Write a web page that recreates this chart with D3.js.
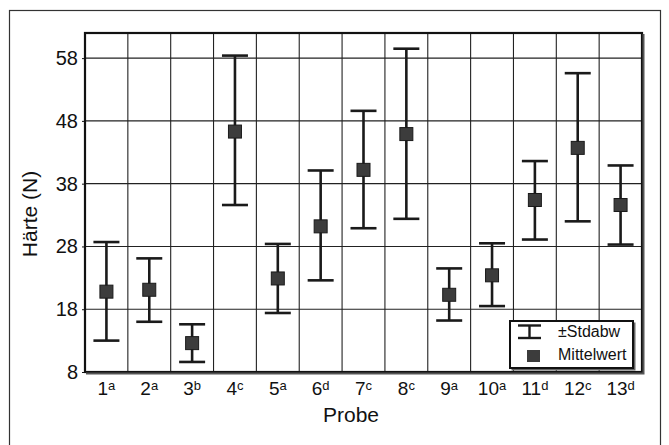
<!DOCTYPE html>
<html>
<head>
<meta charset="utf-8">
<script src="https://cdn.jsdelivr.net/npm/d3@7"></script>
<style>
  body { margin: 0; background: #fff; }
  svg { display: block; }
</style>
</head>
<body>
<div class="chart"></div>
<script>
// Proben und Gruppenbuchstaben
var probes = ["1", "2", "3", "4", "5", "6", "7", "8", "9", "10", "11", "12", "13"];
var groups = ["a", "a", "b", "c", "a", "d", "c", "c", "a", "a", "d", "c", "d"];
// Mittelwert und Grenzen (Mittelwert ± Stdabw)
var means = [20.8, 21.1, 12.6, 46.3, 22.9, 31.2, 40.2, 45.9, 20.3, 23.4, 35.4, 43.7, 34.6];
var upper = [28.7, 26.1, 15.6, 58.4, 28.4, 40.1, 49.6, 59.5, 24.5, 28.5, 41.6, 55.6, 40.9];
var lower = [13.0, 16.0, 9.6, 34.6, 17.4, 22.6, 30.9, 32.4, 16.2, 18.5, 29.1, 32.0, 28.3];
var yTicks = [8, 18, 28, 38, 48, 58];

var font = "Liberation Sans, Arial, Helvetica, sans-serif";
var width = 669, height = 445;
var margin = {top: 33, right: 27, bottom: 73, left: 85},
    plotW = width - margin.left - margin.right,
    plotH = height - margin.top - margin.bottom;

var data = probes.map(function(p, i) {
  return {probe: p, group: groups[i], mean: means[i], hi: upper[i], lo: lower[i]};
});

var svg = d3.select(".chart").append("svg")
    .attr("width", width)
    .attr("height", height)
    .attr("font-family", font);

// outer frame
svg.append("rect")
    .attr("x", 9.5).attr("y", 10.5)
    .attr("width", 651).attr("height", 440)
    .attr("fill", "none")
    .attr("stroke", "#333")
    .attr("stroke-width", 1.2);

var g = svg.append("g")
    .attr("transform", `translate(${margin.left}, ${margin.top})`);

var x = d3.scaleBand()
    .domain(probes)
    .range([0, plotW])
    .padding(0);

var y = d3.scaleLinear()
    .domain([8, 62])
    .range([plotH, 0]);

// horizontal grid
g.append("g")
  .selectAll("line")
  .data(yTicks.slice(1))
  .enter().append("line")
    .attr("x1", 0).attr("x2", plotW)
    .attr("y1", d => y(d)).attr("y2", d => y(d))
    .attr("stroke", "#222")
    .attr("stroke-width", 1.1);

// vertical grid between probes
g.append("g")
  .selectAll("line")
  .data(probes.slice(1))
  .enter().append("line")
    .attr("x1", d => x(d)).attr("x2", d => x(d))
    .attr("y1", 0).attr("y2", plotH)
    .attr("stroke", "#222")
    .attr("stroke-width", 1.1);

// plot frame, heavier bottom and right like a shadow
g.append("rect")
    .attr("x", 0).attr("y", 0)
    .attr("width", plotW).attr("height", plotH)
    .attr("fill", "none")
    .attr("stroke", "#111")
    .attr("stroke-width", 2.2);
g.append("path")
    .attr("d", `M${plotW + 1.5},1 V${plotH + 1.5} H1`)
    .attr("fill", "none")
    .attr("stroke", "#555")
    .attr("stroke-width", 2);

// y axis
var yAxis = g.append("g")
    .call(d3.axisLeft(y).tickValues(yTicks).tickSize(3).tickPadding(4));
yAxis.attr("font-family", font);
yAxis.select(".domain").remove();
yAxis.selectAll("line").attr("stroke", "#111");
yAxis.selectAll("text")
    .attr("font-size", 20)
    .attr("fill", "#111");

// x axis labels with superscript letters
var xAxis = g.append("g")
    .attr("transform", `translate(0, ${plotH})`);
var xl = xAxis.selectAll("text")
  .data(data)
  .enter().append("text")
    .attr("x", d => x(d.probe) + x.bandwidth() / 2)
    .attr("y", 23)
    .attr("text-anchor", "middle")
    .attr("fill", "#111")
    .attr("font-size", 19);
xl.append("tspan").text(d => d.probe);
xl.append("tspan")
    .attr("font-size", 13)
    .attr("dy", -5)
    .text(d => d.group);

// axis titles
svg.append("text")
    .attr("x", 351)
    .attr("y", 422)
    .attr("text-anchor", "middle")
    .attr("font-size", 21)
    .attr("fill", "#111")
    .text("Probe");

svg.append("text")
    .attr("transform", `translate(37, 214) rotate(-90)`)
    .attr("text-anchor", "middle")
    .attr("font-size", 21)
    .attr("fill", "#111")
    .text("Härte (N)");

// error bars
var capW = 26, boxS = 13;
var bars = g.append("g")
  .selectAll(".err")
  .data(data)
  .enter().append("g")
    .attr("class", "err")
    .attr("transform", d => `translate(${x(d.probe) + x.bandwidth() / 2}, 0)`);

bars.append("line")
    .attr("y1", d => y(d.hi)).attr("y2", d => y(d.lo))
    .attr("stroke", "#1a1a1a")
    .attr("stroke-width", 2.6);
bars.append("line")
    .attr("x1", -capW / 2).attr("x2", capW / 2)
    .attr("y1", d => y(d.hi)).attr("y2", d => y(d.hi))
    .attr("stroke", "#1a1a1a")
    .attr("stroke-width", 2.6);
bars.append("line")
    .attr("x1", -capW / 2).attr("x2", capW / 2)
    .attr("y1", d => y(d.lo)).attr("y2", d => y(d.lo))
    .attr("stroke", "#1a1a1a")
    .attr("stroke-width", 2.6);
bars.append("rect")
    .attr("x", -boxS / 2)
    .attr("y", d => y(d.mean) - boxS / 2)
    .attr("width", boxS).attr("height", boxS)
    .attr("fill", "#3c3c3c")
    .attr("stroke", "#1a1a1a")
    .attr("stroke-width", 1);

// legend
var lg = svg.append("g")
    .attr("transform", "translate(510, 321)");
lg.append("rect")
    .attr("x", 1.5).attr("y", 1.5)
    .attr("width", 124).attr("height", 48)
    .attr("fill", "#666");
lg.append("rect")
    .attr("width", 123).attr("height", 47)
    .attr("fill", "#fff")
    .attr("stroke", "#111")
    .attr("stroke-width", 2);
lg.append("line")
    .attr("x1", 8).attr("x2", 31).attr("y1", 4.5).attr("y2", 4.5)
    .attr("stroke", "#1a1a1a").attr("stroke-width", 2.4);
lg.append("line")
    .attr("x1", 8).attr("x2", 31).attr("y1", 17).attr("y2", 17)
    .attr("stroke", "#1a1a1a").attr("stroke-width", 2.4);
lg.append("line")
    .attr("x1", 19.5).attr("x2", 19.5).attr("y1", 4.5).attr("y2", 17)
    .attr("stroke", "#1a1a1a").attr("stroke-width", 2.4);
lg.append("rect")
    .attr("x", 17).attr("y", 29)
    .attr("width", 13).attr("height", 12)
    .attr("fill", "#3c3c3c");
lg.append("text")
    .attr("x", 48).attr("y", 16)
    .attr("font-size", 16)
    .attr("fill", "#111")
    .text("±Stdabw");
lg.append("text")
    .attr("x", 48).attr("y", 39)
    .attr("font-size", 16)
    .attr("fill", "#111")
    .text("Mittelwert");
</script>
</body>
</html>
